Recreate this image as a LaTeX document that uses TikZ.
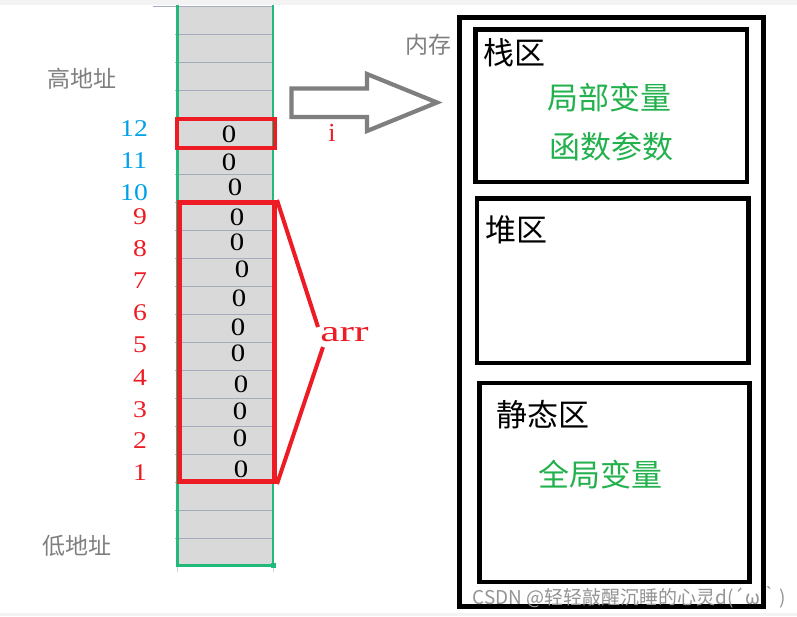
\documentclass[tikz,border=0pt]{standalone}
\usepackage{fontspec}
\setmainfont{Liberation Serif}
\newfontfamily\cjk{Noto Sans CJK SC}
\newfontfamily\wideserif[FakeStretch=1.45]{Liberation Serif}
\newfontfamily\wideserifb[FakeStretch=1.15]{Liberation Serif}
\definecolor{cellgray}{RGB}{217,217,217}
\definecolor{gridc}{RGB}{165,172,190}
\definecolor{selgreen}{RGB}{33,186,123}
\definecolor{redc}{RGB}{237,28,36}
\definecolor{bluec}{RGB}{0,162,232}
\definecolor{graytext}{RGB}{127,127,127}
\definecolor{greentext}{RGB}{34,177,76}
\definecolor{band}{RGB}{243,243,243}
\tikzset{
  redbox/.style={draw=redc, line width=4.5pt, rectangle, inner sep=0pt},
  memline/.style={draw=black, rectangle, inner sep=0pt},
  zero/.style={font=\wideserifb\fontsize{25}{25}\selectfont, inner sep=0pt},
  bluenum/.style={text=bluec, font=\wideserifb\fontsize{24}{24}\selectfont, inner sep=0pt},
  rednum/.style={text=redc, font=\wideserifb\fontsize{24}{24}\selectfont, inner sep=0pt},
  graylabel/.style={text=graytext, font=\cjk\fontsize{23}{23}\selectfont, inner sep=0pt},
  blacklabel/.style={text=black, font=\cjk\fontsize{31}{31}\selectfont, inner sep=0pt},
  greenlabel/.style={text=greentext, font=\cjk\fontsize{31}{31}\selectfont, inner sep=0pt},
  redlink/.style={draw=redc, line width=4pt},
}
\begin{document}
\begin{tikzpicture}[x=1pt,y=-1pt]
\useasboundingbox (0,0) rectangle (797,616);
\fill[white] (0,0) rectangle (797,616);
\fill[band] (0,0) rectangle (797,5);
\fill[band] (0,613) rectangle (797,616);
% spreadsheet column
\fill[cellgray] (178,6) rectangle (272,566);
\draw[gridc, line width=0.8pt] (153,6) -- (272,6);
\foreach \y in {34,62,...,538} \draw[gridc, line width=0.8pt] (175,\y) -- (272,\y);
\draw[gridc!60, line width=0.8pt] (177.5,566) -- (177.5,572);
\draw[gridc!60, line width=0.8pt] (273,566) -- (273,572);
\draw[selgreen, line width=2.6pt] (177.5,5) -- (177.5,565.5) -- (272.8,565.5) -- (272.8,5);
\fill[selgreen] (270.5,563) rectangle (275.5,568);
% values
\foreach \x/\y [count=\i] in {229/134,229/162,235/187,237/217,237/242,242/269,239/298,238/327,238/353,241/384,240/411,240/438,241/469}
  \node[zero] (z\i) at (\x,\y) {0};
% address numbers
\node[bluenum] (n12) at (134,129) {12};
\node[bluenum] (n11) at (134,161) {11};
\node[bluenum] (n10) at (134,193) {10};
\foreach \n/\y in {9/217,8/249,7/281,6/313,5/345,4/378,3/410,2/441,1/473}
  \node[rednum] (n\n) at (140,\y) {\n};
\node[graylabel] (high) at (82,79) {高地址};
\node[graylabel] (low) at (77,546) {低地址};
% red boxes
\node[redbox, minimum width=98pt, minimum height=29pt] (cell12) at (226,133.5) {};
\node[redbox, line width=5pt, minimum width=95pt, minimum height=279pt] (arrbox) at (227,342) {};
\node[text=redc, font=\fontsize{26}{26}\selectfont, inner sep=0pt] (ilabel) at (332,133) {i};
\node[text=redc, font=\wideserif\fontsize{30}{30}\selectfont, inner sep=0pt] (arr) at (344.5,335) {arr};
\coordinate (arrtop) at (318,327);
\coordinate (arrbot) at (323,347);
\draw[redlink] (arrbox.north east) -- (arrtop);
\draw[redlink] (arrbot) -- (arrbox.south east);
% block arrow
\draw[graytext, line width=4.2pt, line join=miter] (291.5,88.5) -- (367,88.5) -- (367,74) -- (437,102.5) -- (367,131) -- (367,117) -- (291.5,117) -- cycle;
% memory
\node[graylabel] (mem) at (428,45) {内存};
\node[memline, line width=5pt, minimum width=304pt, minimum height=589pt] (memory) at (611.5,311.5) {};
\node[memline, line width=4.5pt, minimum width=271.5pt, minimum height=152.5pt] (stack) at (611.25,105.75) {};
\node[memline, line width=4.5pt, minimum width=271.5pt, minimum height=164.5pt] (heap) at (612.75,280.75) {};
\node[memline, line width=4.5pt, minimum width=270pt, minimum height=199pt] (static) at (614.5,482.5) {};
\node[blacklabel] (stackt) at (514,53) {栈区};
\node[greenlabel] (local) at (609,98) {局部变量};
\node[greenlabel] (param) at (611,147) {函数参数};
\node[blacklabel] (heapt) at (516,230) {堆区};
\node[blacklabel] (statict) at (543,415) {静态区};
\node[greenlabel] (global) at (600,475) {全局变量};
% watermark
\node[text=black!42, font=\cjk\fontsize{19}{19}\selectfont, inner sep=0pt] (wm) at (629,597) {CSDN @轻轻敲醒沉睡的心灵d(´ω｀)};
\end{tikzpicture}
\end{document}
